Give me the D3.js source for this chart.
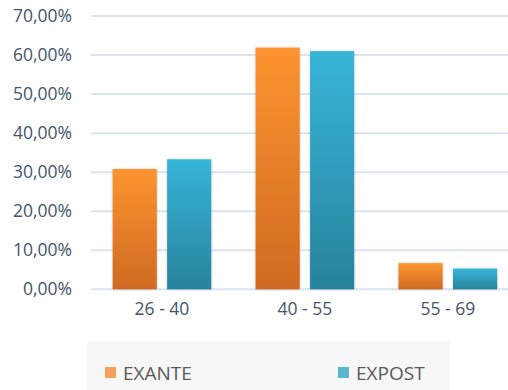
<!DOCTYPE html>
<html>
<head>
<meta charset="utf-8">
<script src="https://cdn.jsdelivr.net/npm/d3@7"></script>
<style>
  html, body { margin: 0; padding: 0; background: #ffffff; }
  svg { display: block; }
</style>
</head>
<body>
<script>
// Age groups and the share of each group before and after
const categories = ["26 - 40", "40 - 55", "55 - 69"];
const seriesNames = ["EXANTE", "EXPOST"];
const exante = [0.308, 0.619, 0.067];
const expost = [0.333, 0.610, 0.053];
const yTicks = [0, 0.1, 0.2, 0.3, 0.4, 0.5, 0.6, 0.7];

const W = 508, H = 390;
const svg = d3.select("body").append("svg").attr("width", W).attr("height", H);
const defs = svg.append("defs");

// Vertical gradients for the bars
const grads = {
  EXANTE: ["#fd9430", "#cf6a21"],
  EXPOST: ["#37b5d8", "#27839c"]
};
Object.entries(grads).forEach(([name, [top, bottom]]) => {
  const g = defs.append("linearGradient").attr("id", "g-" + name)
    .attr("x1", 0).attr("y1", 0).attr("x2", 0).attr("y2", 1);
  g.append("stop").attr("offset", "0%").attr("stop-color", top);
  g.append("stop").attr("offset", "100%").attr("stop-color", bottom);
});
const shadow = defs.append("filter").attr("id", "soft")
  .attr("x", "-20%").attr("y", "-5%").attr("width", "140%").attr("height", "110%");
shadow.append("feDropShadow").attr("dx", 0).attr("dy", 0).attr("stdDeviation", 1.2)
  .attr("flood-color", "#000").attr("flood-opacity", 0.25);

const y = d3.scaleLinear().domain([0, 0.7]).range([289.3, 16]);
const x0 = d3.scaleBand().domain(categories).range([90.5, 519.3])
  .paddingInner(0.31).paddingOuter(0.155);
const x1 = d3.scaleBand().domain(seriesNames).range([0, x0.bandwidth()])
  .paddingInner(0.19).paddingOuter(0);

const fmt = v => d3.format(".2f")(v * 100).replace(".", ",") + "%";

// Gridlines
svg.append("g").selectAll("line").data(yTicks).join("line")
  .attr("x1", 91).attr("x2", W)
  .attr("y1", d => y(d)).attr("y2", d => y(d))
  .attr("stroke", "#d9e3f1").attr("stroke-width", 2);

// Y axis labels
const yAxis = d3.axisLeft(y).tickValues(yTicks).tickFormat(fmt).tickSize(0).tickPadding(0);
const ya = svg.append("g").attr("transform", "translate(72,0)").call(yAxis);
ya.select(".domain").remove();
ya.selectAll("text")
  .attr("fill", "#44546a")
  .style("font-family", "'Open Sans', sans-serif")
  .style("font-size", "17.5px");

// Bars
const rows = categories.map((c, i) => ({ cat: c, values: [exante[i], expost[i]] }));
const groups = svg.append("g").selectAll("g").data(rows).join("g")
  .attr("transform", d => `translate(${x0(d.cat)},0)`);
groups.selectAll("rect")
  .data(d => d.values.map((v, j) => ({ name: seriesNames[j], v })))
  .join("rect")
  .attr("x", d => x1(d.name))
  .attr("width", x1.bandwidth())
  .attr("y", d => y(d.v))
  .attr("height", d => y(0) - y(d.v))
  .attr("fill", d => `url(#g-${d.name})`)
  .attr("filter", "url(#soft)");

// X axis labels
const xAxis = d3.axisBottom(x0).tickSize(0).tickPadding(0);
const xa = svg.append("g").attr("transform", "translate(0,303)").call(xAxis);
xa.select(".domain").remove();
xa.selectAll("text")
  .attr("fill", "#44546a")
  .style("font-family", "'Open Sans', sans-serif")
  .style("font-size", "17.5px");

// Legend
const legend = svg.append("g");
legend.append("rect").attr("x", 87).attr("y", 341).attr("width", 363).attr("height", 49)
  .attr("fill", "#f7f7f7");
const legendColors = { EXANTE: "#f89f5b", EXPOST: "#5bb7cd" };
const legendX = { EXANTE: 105, EXPOST: 338 };
seriesNames.forEach(name => {
  legend.append("rect").attr("x", legendX[name]).attr("y", 367)
    .attr("width", 11).attr("height", 11).attr("fill", legendColors[name]);
  legend.append("text").attr("x", legendX[name] + 18).attr("y", 379.5)
    .attr("fill", "#595959")
    .style("font-family", "'Open Sans', sans-serif")
    .style("font-size", "19px")
    .text(name);
});
</script>
</body>
</html>
